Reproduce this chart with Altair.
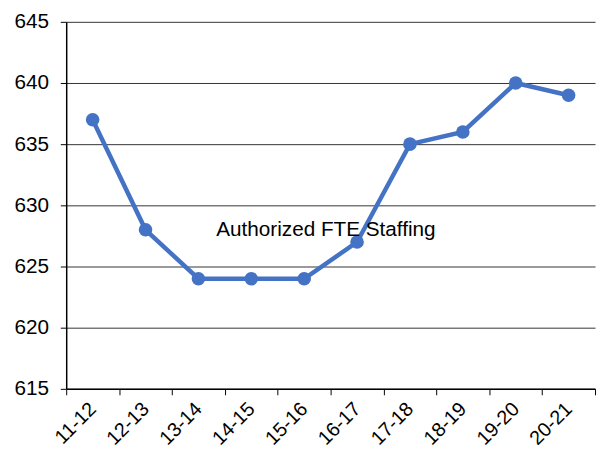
import altair as alt
import pandas as pd

years = ["11-12", "12-13", "13-14", "14-15", "15-16", "16-17", "17-18", "18-19", "19-20", "20-21"]
staff = [637, 628, 624, 624, 624, 627, 635, 636, 640, 639]
title_text = ["Authorized FTE Staffing"]

df = pd.DataFrame({"year": years, "fte": staff})

FONT = "Liberation Sans"

x_enc = alt.X("year:N", sort=years, title=None,
              scale=alt.Scale(paddingInner=0, paddingOuter=0),
              axis=alt.Axis(labelAngle=-45, labelAlign="right", labelBaseline="middle",
                            labelFontSize=20, labelFont=FONT, labelColor="black",
                            tickBand="extent", tickColor="black", tickSize=6,
                            domainColor="black", domainWidth=1.5, labelPadding=11))
y_enc = alt.Y("fte:Q", title=None,
              scale=alt.Scale(domain=[615, 645], nice=False, zero=False),
              axis=alt.Axis(values=[615, 620, 625, 630, 635, 640, 645],
                            labelFontSize=21, labelFont=FONT, labelColor="black",
                            tickColor="black", tickSize=6, domainColor="black",
                            domainWidth=1.5, gridColor="#333333", gridWidth=1,
                            labelPadding=12))

base = alt.Chart(df)
line = base.mark_line(color="#4472C4", strokeWidth=4.5).encode(x=x_enc, y=y_enc)
pts = base.mark_circle(color="#4472C4", size=190, opacity=1).encode(x=x_enc, y=y_enc)

txt = alt.Chart(pd.DataFrame({"t": title_text, "year": ["15-16"], "fte": [628]})).mark_text(
    font=FONT, fontSize=21, color="black", dx=22, align="center", baseline="middle"
).encode(x=alt.X("year:N", sort=years), y=alt.Y("fte:Q"), text="t:N")

chart = (line + pts + txt).properties(
    width=536, height=372,
    autosize=alt.AutoSizeParams(type="none"),
    padding={"left": 59, "top": 11, "right": 2, "bottom": 62},
).configure_view(stroke=None).configure_axis(grid=False).configure_axisY(grid=True)

chart.save("out.html", embed_options={"renderer": "svg", "actions": False})
